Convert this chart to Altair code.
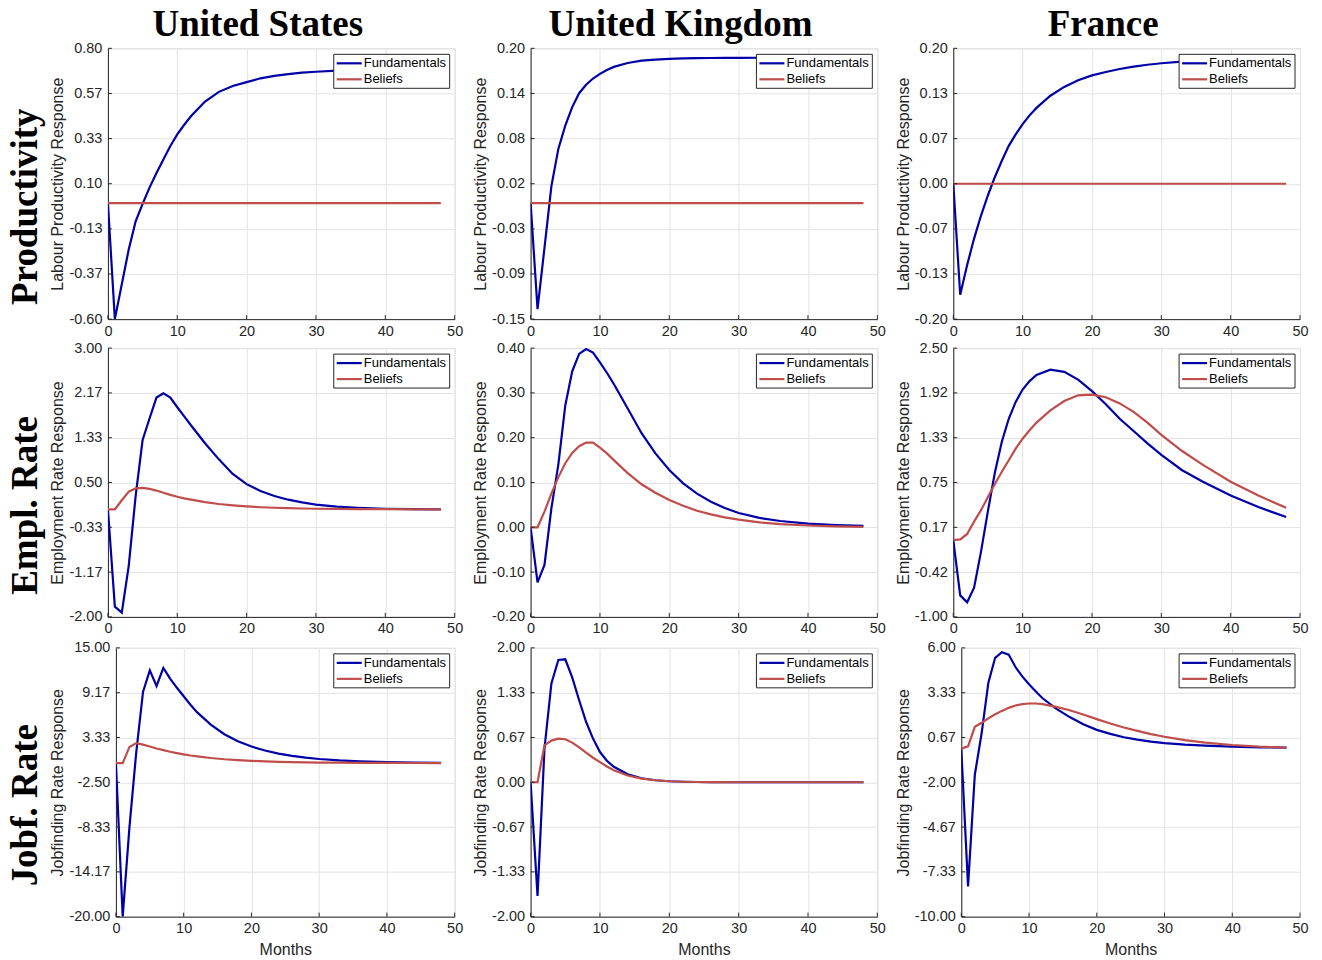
import json
import altair as alt
import pandas as pd

MONTHS = [0, 1, 2, 3, 4, 5, 6, 7, 8, 9, 10, 11, 12, 14, 16, 18, 20, 22, 24, 26, 28, 30, 33, 36, 40, 44, 48]

# ---- Productivity ----
US_PROD_F = [0, -0.60, -0.42, -0.24, -0.094, -0.004, 0.08, 0.155, 0.225, 0.295, 0.355, 0.405, 0.45,
             0.525, 0.575, 0.605, 0.625, 0.645, 0.658, 0.667, 0.674, 0.679, 0.685, 0.689, 0.693, 0.696, 0.698]
US_PROD_B = [0, 0, 0, 0, 0, 0, 0, 0, 0, 0, 0, 0, 0, 0, 0, 0, 0, 0, 0, 0, 0, 0, 0, 0, 0, 0, 0]
UK_PROD_F = [0, -0.137, -0.058, 0.022, 0.070, 0.100, 0.124, 0.142, 0.153, 0.161, 0.167, 0.172, 0.176,
             0.181, 0.184, 0.1855, 0.1865, 0.187, 0.1873, 0.1875, 0.1876, 0.1877, 0.1878, 0.1878, 0.1879, 0.1879, 0.1879]
UK_PROD_B = [0, 0, 0, 0, 0, 0, 0, 0, 0, 0, 0, 0, 0, 0, 0, 0, 0, 0, 0, 0, 0, 0, 0, 0, 0, 0, 0]
FR_PROD_F = [0, -0.164, -0.120, -0.081, -0.047, -0.017, 0.010, 0.034, 0.056, 0.073, 0.088, 0.101, 0.112,
             0.130, 0.143, 0.153, 0.160, 0.165, 0.1695, 0.173, 0.1758, 0.178, 0.1804, 0.182, 0.1835, 0.1844, 0.185]
FR_PROD_B = [0, 0, 0, 0, 0, 0, 0, 0, 0, 0, 0, 0, 0, 0, 0, 0, 0, 0, 0, 0, 0, 0, 0, 0, 0, 0, 0]

# ---- Employment rate ----
US_EMPL_F = [0, -1.81, -1.92, -1.05, 0.25, 1.29, 1.69, 2.08, 2.16, 2.08, 1.90, 1.73, 1.56,
             1.23, 0.93, 0.66, 0.47, 0.34, 0.25, 0.18, 0.13, 0.09, 0.05, 0.03, 0.012, 0.004, 0.0]
US_EMPL_B = [0, 0, 0.17, 0.33, 0.39, 0.40, 0.38, 0.35, 0.31, 0.27, 0.235, 0.205, 0.18,
             0.135, 0.10, 0.075, 0.055, 0.04, 0.03, 0.022, 0.016, 0.012, 0.008, 0.005, 0.003, 0.001, 0.0]
UK_EMPL_F = [0, -0.123, -0.084, 0.043, 0.140, 0.272, 0.348, 0.387, 0.398, 0.390, 0.368, 0.345, 0.320,
             0.265, 0.210, 0.165, 0.128, 0.098, 0.075, 0.057, 0.043, 0.032, 0.021, 0.014, 0.008, 0.005, 0.003]
UK_EMPL_B = [0, 0, 0.035, 0.075, 0.112, 0.143, 0.166, 0.181, 0.189, 0.189, 0.178, 0.165, 0.150,
             0.121, 0.096, 0.077, 0.061, 0.048, 0.037, 0.029, 0.022, 0.017, 0.011, 0.007, 0.004, 0.002, 0.001]
FR_EMPL_F = [0, -0.72, -0.81, -0.62, -0.15, 0.38, 0.88, 1.28, 1.58, 1.80, 1.96, 2.07, 2.15,
             2.22, 2.19, 2.09, 1.94, 1.77, 1.58, 1.42, 1.26, 1.11, 0.91, 0.76, 0.58, 0.43, 0.30]
FR_EMPL_B = [0, 0.01, 0.08, 0.24, 0.39, 0.56, 0.73, 0.89, 1.04, 1.19, 1.32, 1.43, 1.53,
             1.69, 1.81, 1.885, 1.895, 1.86, 1.78, 1.67, 1.53, 1.37, 1.16, 0.98, 0.76, 0.58, 0.42]

# ---- Jobfinding rate ----
US_JOBF_F = [0, -20.0, -8.3, 1.4, 9.26, 12.07, 10.04, 12.4, 11.0, 9.8, 8.7, 7.6, 6.6,
             5.0, 3.75, 2.85, 2.15, 1.63, 1.23, 0.93, 0.70, 0.53, 0.35, 0.23, 0.13, 0.07, 0.04]
US_JOBF_B = [0, 0, 2.1, 2.6, 2.4, 2.15, 1.9, 1.68, 1.48, 1.30, 1.13, 0.99, 0.87,
             0.66, 0.50, 0.38, 0.29, 0.22, 0.16, 0.12, 0.09, 0.07, 0.05, 0.03, 0.015, 0.008, 0.004]
UK_JOBF_F = [0, -1.69, 0.50, 1.47, 1.82, 1.83, 1.56, 1.22, 0.90, 0.65, 0.45, 0.32, 0.23,
             0.12, 0.06, 0.03, 0.015, 0.008, 0.004, 0.002, 0.001, 0, 0, 0, 0, 0, 0]
UK_JOBF_B = [0, 0, 0.55, 0.62, 0.65, 0.64, 0.59, 0.52, 0.44, 0.365, 0.30, 0.235, 0.18,
             0.10, 0.055, 0.03, 0.015, 0.008, 0.004, 0.002, 0.001, 0, 0, 0, 0, 0, 0]
FR_JOBF_F = [0, -8.2, -1.55, 0.9, 3.93, 5.41, 5.74, 5.6, 4.86, 4.3, 3.83, 3.4, 3.0,
             2.38, 1.88, 1.45, 1.12, 0.88, 0.68, 0.54, 0.42, 0.33, 0.24, 0.18, 0.12, 0.08, 0.06]
FR_JOBF_B = [0, 0.14, 1.3, 1.54, 1.80, 2.05, 2.25, 2.43, 2.57, 2.65, 2.69, 2.69, 2.65,
             2.49, 2.29, 2.03, 1.76, 1.50, 1.26, 1.06, 0.87, 0.71, 0.51, 0.36, 0.22, 0.12, 0.06]

# ---- axes ----
COUNTRIES = ["United States", "United Kingdom", "France"]
ROW_TITLES = ["Productivity", "Empl.  Rate", "Jobf.  Rate"]
Y_TITLES = ["Labour Productivity Response", "Employment Rate Response", "Jobfinding Rate Response"]
SERIES = ["Fundamentals", "Beliefs"]

US_PROD_DOM = [-0.60, 0.80]
UK_PROD_DOM = [-0.15, 0.20]
FR_PROD_DOM = [-0.20, 0.20]
US_EMPL_DOM = [-2.0, 3.0]
UK_EMPL_DOM = [-0.20, 0.40]
FR_EMPL_DOM = [-1.0, 2.5]
US_JOBF_DOM = [-20.0, 15.0]
UK_JOBF_DOM = [-2.0, 2.0]
FR_JOBF_DOM = [-10.0, 6.0]

US_PROD_LAB = ["-0.60", "-0.37", "-0.13", "0.10", "0.33", "0.57", "0.80"]
UK_PROD_LAB = ["-0.15", "-0.09", "-0.03", "0.02", "0.08", "0.14", "0.20"]
FR_PROD_LAB = ["-0.20", "-0.13", "-0.07", "0.00", "0.07", "0.13", "0.20"]
US_EMPL_LAB = ["-2.00", "-1.17", "-0.33", "0.50", "1.33", "2.17", "3.00"]
UK_EMPL_LAB = ["-0.20", "-0.10", "0.00", "0.10", "0.20", "0.30", "0.40"]
FR_EMPL_LAB = ["-1.00", "-0.42", "0.17", "0.75", "1.33", "1.92", "2.50"]
US_JOBF_LAB = ["-20.00", "-14.17", "-8.33", "-2.50", "3.33", "9.17", "15.00"]
UK_JOBF_LAB = ["-2.00", "-1.33", "-0.67", "0.00", "0.67", "1.33", "2.00"]
FR_JOBF_LAB = ["-10.00", "-7.33", "-4.67", "-2.00", "0.67", "3.33", "6.00"]

X_TICKS = [0, 10, 20, 30, 40, 50]

BLUE = "#0000a8"
RED = "#bf4d4a"
COLORS = [BLUE, RED]
AX = "#262626"
GRID = "#e3e3e3"
SANS = "Liberation Sans"
SERIF = "Liberation Serif"
LW = 2.2
TICK_LEN = 4


def legend_layers(w):
    """Boxed legend in the top-right corner of a panel (drawn above the lines)."""
    out = [alt.Chart(pd.DataFrame({"s": ["box"]})).mark_rect(
        fill="white", stroke=AX, strokeWidth=1).encode(
        x=alt.value(w - 121), x2=alt.value(w - 5), y=alt.value(6), y2=alt.value(40))]
    for i, (name, col) in enumerate(zip(SERIES, COLORS)):
        yy = 15 + 16 * i
        d = pd.DataFrame({"s": [name]})
        out.append(alt.Chart(d).mark_rule(color=col, strokeWidth=LW).encode(
            x=alt.value(w - 118), x2=alt.value(w - 93), y=alt.value(yy)))
        out.append(alt.Chart(d).mark_text(align="left", baseline="middle", font=SANS, fontSize=13,
                                          color="black").encode(
            text="s:N", x=alt.value(w - 91), y=alt.value(yy)))
    return out


def panel(f, b, dom, labels, ytitle, w, h, col_title=None, row_title=None, row_dx=-82, months_title=False):
    n = len(MONTHS)
    df = pd.DataFrame({
        "Months": MONTHS + MONTHS,
        "value": f + b,
        "series": [SERIES[0]] * n + [SERIES[1]] * n,
    })
    lo, hi = dom
    step = (hi - lo) / 6
    ticks = [lo + i * step for i in range(7)]
    expr = f"{json.dumps(labels)}[round((datum.value - ({lo})) / {step})]"

    x_axis_kw = dict(values=X_TICKS, grid=True, gridColor=GRID, domainColor=AX, ticks=False,
                     labelFont=SANS, labelFontSize=14.5, labelColor=AX, labelPadding=5,
                     labelFlush=False, labelOverlap=False, format="d")
    if months_title:
        x_enc = alt.X("Months:Q", scale=alt.Scale(domain=[0, 50], nice=False),
                      axis=alt.Axis(title="Months", titleFont=SANS, titleFontSize=16,
                                    titleFontWeight="normal", titleColor=AX, titlePadding=6,
                                    **x_axis_kw))
    else:
        x_enc = alt.X("Months:Q", scale=alt.Scale(domain=[0, 50], nice=False),
                      axis=alt.Axis(title=None, **x_axis_kw))

    y_enc = alt.Y("value:Q", scale=alt.Scale(domain=dom, nice=False, zero=False),
                  axis=alt.Axis(values=ticks, labelExpr=expr, title=ytitle, grid=True, gridColor=GRID,
                                domainColor=AX, ticks=False, labelFont=SANS, labelFontSize=14.5,
                                labelColor=AX, labelPadding=6, labelOverlap=False, labelFlush=False,
                                titleFont=SANS, titleFontSize=16, titleFontWeight="normal",
                                titleColor=AX, titlePadding=3))

    line = alt.Chart(df).mark_line(strokeWidth=LW, clip=True).encode(
        x=x_enc,
        y=y_enc,
        color=alt.Color("series:N", sort=SERIES,
                        scale=alt.Scale(domain=SERIES, range=COLORS), legend=None),
        order=alt.Order("Months:Q"),
    )
    # short inward tick marks (MATLAB style)
    ytick = alt.Chart(pd.DataFrame({"value": ticks})).mark_rule(color=AX, strokeWidth=1).encode(
        y=y_enc, x=alt.value(0), x2=alt.value(TICK_LEN))
    xtick = alt.Chart(pd.DataFrame({"Months": X_TICKS})).mark_rule(color=AX, strokeWidth=1).encode(
        x=x_enc, y=alt.value(h), y2=alt.value(h - TICK_LEN))

    layers = [line, ytick, xtick] + legend_layers(w)
    if col_title:
        layers.append(alt.Chart(pd.DataFrame({"t": [col_title]})).mark_text(
            font=SERIF, fontWeight="bold", fontSize=37, align="center", baseline="alphabetic",
            color="black").encode(text="t:N", x=alt.value(150), y=alt.value(-12)))
    if row_title:
        layers.append(alt.Chart(pd.DataFrame({"t": [row_title]})).mark_text(
            font=SERIF, fontWeight="bold", fontSize=37, align="center", baseline="middle",
            angle=270, color="black").encode(text="t:N", x=alt.value(row_dx), y=alt.value(h / 2 + 23)))
    return alt.layer(*layers).properties(width=w, height=h)


def spacer(h):
    return alt.Chart(pd.DataFrame({"t": [""]})).mark_text().encode(text="t:N").properties(width=1, height=h)


W = 347
rows = []
specs = [
    [(US_PROD_F, US_PROD_B, US_PROD_DOM, US_PROD_LAB), (UK_PROD_F, UK_PROD_B, UK_PROD_DOM, UK_PROD_LAB),
     (FR_PROD_F, FR_PROD_B, FR_PROD_DOM, FR_PROD_LAB)],
    [(US_EMPL_F, US_EMPL_B, US_EMPL_DOM, US_EMPL_LAB), (UK_EMPL_F, UK_EMPL_B, UK_EMPL_DOM, UK_EMPL_LAB),
     (FR_EMPL_F, FR_EMPL_B, FR_EMPL_DOM, FR_EMPL_LAB)],
    [(US_JOBF_F, US_JOBF_B, US_JOBF_DOM, US_JOBF_LAB), (UK_JOBF_F, UK_JOBF_B, UK_JOBF_DOM, UK_JOBF_LAB),
     (FR_JOBF_F, FR_JOBF_B, FR_JOBF_DOM, FR_JOBF_LAB)],
]
heights = [271, 269, 269]
for r in range(3):
    panels = [spacer(heights[r])]
    for c in range(3):
        f, b, dom, lab = specs[r][c]
        w = W
        if r == 2 and c in (0, 2):
            w = 339
        panels.append(panel(
            f, b, dom, lab, Y_TITLES[r], w, heights[r],
            col_title=COUNTRIES[c] if r == 0 else None,
            row_title=ROW_TITLES[r] if c == 0 else None,
            row_dx=-90 if r == 2 else -82,
            months_title=(r == 2),
        ))
    rows.append(alt.hconcat(*panels, spacing=8))

lower = alt.vconcat(rows[1], rows[2], spacing=3)
chart = alt.vconcat(rows[0], lower, spacing=1).properties(
    padding={"left": -11, "top": -3, "right": 5, "bottom": 0}).configure_view(
    stroke=None).configure(background="white")

chart.save("out.html", embed_options={"renderer": "svg", "actions": False})
